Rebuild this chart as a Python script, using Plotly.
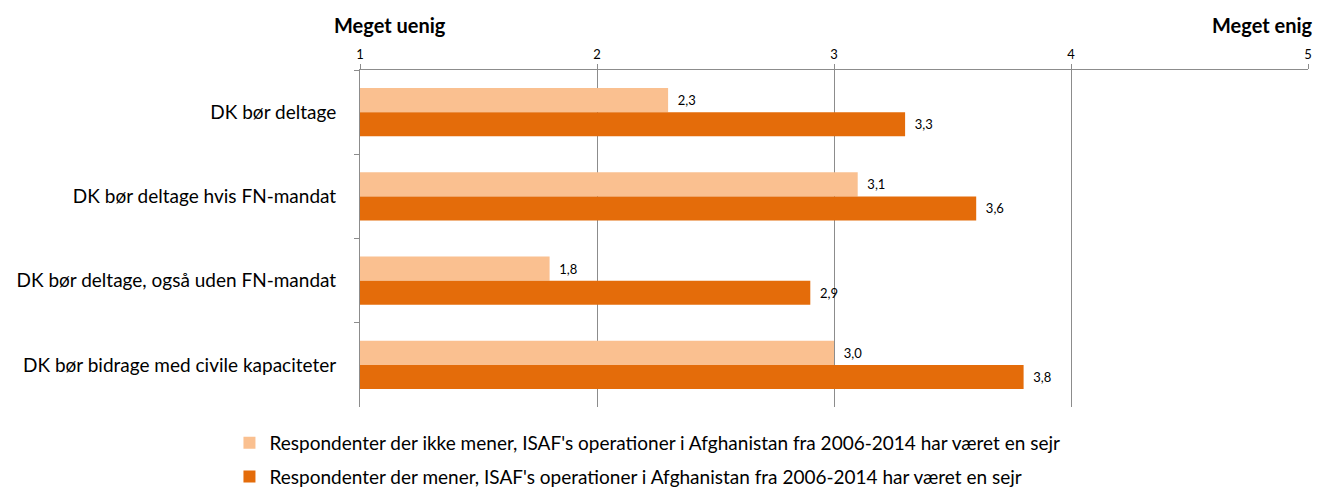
import plotly.graph_objects as go

categories = [
    "DK bør deltage",
    "DK bør deltage hvis FN-mandat",
    "DK bør deltage, også uden FN-mandat",
    "DK bør bidrage med civile kapaciteter",
]
series_names = [
    "Respondenter der ikke mener, ISAF's operationer i Afghanistan fra 2006-2014 har været en sejr",
    "Respondenter der mener, ISAF's operationer i Afghanistan fra 2006-2014 har været en sejr",
]
values_not = [2.3, 3.1, 1.8, 3.0]
values_yes = [3.3, 3.6, 2.9, 3.8]
tick_vals = [1, 2, 3, 4, 5]
colors = ["#FAC090", "#E46C0A"]

FONT = "Lato"
GRID = "#8C8C8C"


def fmt(v):
    return "\u00a0\u00a0" + f"{v:.1f}".replace(".", ",")


fig = go.Figure()
for name, vals, col, grp in [
    (series_names[0], values_not, colors[0], "a"),
    (series_names[1], values_yes, colors[1], "b"),
]:
    fig.add_trace(go.Bar(
        y=categories, x=vals, orientation="h", name=name,
        marker=dict(color=col, line=dict(width=0)),
        text=[fmt(v) for v in vals], textposition="outside",
        textfont=dict(family=FONT, size=13, color="#000000"),
        cliponaxis=False, legendgroup=grp,
    ))

fig.update_layout(
    width=1321, height=488,
    margin=dict(l=360, r=13, t=70, b=81, autoexpand=False),
    paper_bgcolor="white", plot_bgcolor="white",
    barmode="group", bargap=0.43, bargroupgap=0,
    font=dict(family=FONT, color="#000000"),
    showlegend=True,
    legend=dict(
        x=-0.1377, y=-0.05, xanchor="left", yanchor="top",
        orientation="v", traceorder="grouped", tracegroupgap=6,
        font=dict(family=FONT, size=19, color="#000000"),
        itemwidth=30,
    ),
    xaxis=dict(
        side="top", range=[1, 5], tickvals=tick_vals,
        ticktext=[str(t) for t in tick_vals],
        showgrid=True, gridcolor=GRID, gridwidth=1,
        showline=True, linecolor=GRID, linewidth=1,
        ticks="outside", ticklen=5, tickcolor=GRID,
        tickfont=dict(family=FONT, size=13, color="#000000"),
        zeroline=False, fixedrange=True, automargin=False,
    ),
    yaxis=dict(
        autorange="reversed", showline=True, linecolor=GRID, linewidth=1,
        ticks="outside", tickson="boundaries", ticklen=5, tickcolor=GRID,
        tickfont=dict(family=FONT, size=19, color="#000000"),
        ticklabelstandoff=19, showgrid=False, automargin=False,
        fixedrange=True,
    ),
    annotations=[
        dict(text="<b>Meget uenig</b>", xref="x", yref="paper", x=1, y=1,
             xanchor="center", yanchor="middle", xshift=30, yshift=45,
             showarrow=False, font=dict(family=FONT, size=20, color="#000000")),
        dict(text="<b>Meget enig</b>", xref="x", yref="paper", x=5, y=1,
             xanchor="right", yanchor="middle", xshift=7, yshift=45,
             showarrow=False, font=dict(family=FONT, size=20, color="#000000")),
    ],
)

fig.write_html(
    "out.html",
    config={"displayModeBar": False},
    post_script="document.body.style.margin='0';document.body.style.padding='0';",
)
